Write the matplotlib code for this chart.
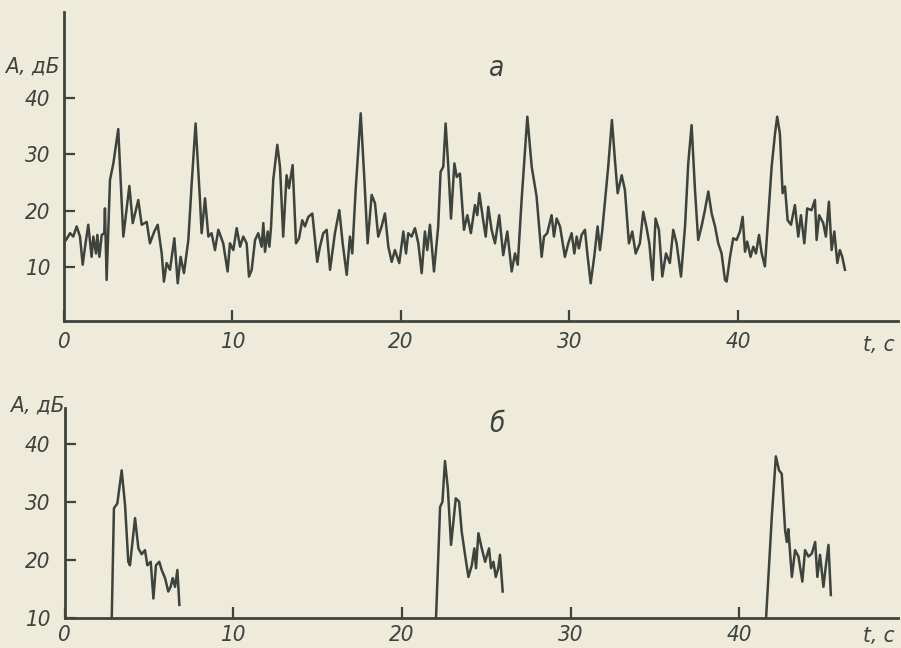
import matplotlib.pyplot as plt

W, H = 901, 648
PAPER = '#eeebdb'
INK = '#3d433d'
FONT = ['DejaVu Sans']

# panel a: amplitude record, t in s, A in dB
t_a = [0.12, 0.36, 0.55, 0.75, 0.95, 1.11, 1.25, 1.44, 1.64, 1.74, 1.90, 1.98, 2.10, 2.24, 2.39,
       2.43, 2.53, 2.73, 2.93, 3.22, 3.52, 3.88, 4.08, 4.41, 4.61, 4.91, 5.10, 5.36, 5.56, 5.80,
       5.93, 6.09, 6.29, 6.55, 6.75, 6.92, 7.12, 7.38, 7.58, 7.81, 8.07, 8.17, 8.37, 8.57, 8.76,
       8.96, 9.16, 9.45, 9.71,
       9.85, 10.05, 10.25, 10.45, 10.64, 10.84, 10.98, 11.14, 11.34, 11.53, 11.73, 11.83, 11.93,
       12.09, 12.19, 12.29, 12.42, 12.66, 12.82, 13.01, 13.21, 13.35, 13.57, 13.77, 13.95, 14.14,
       14.30, 14.50, 14.74, 14.90, 15.03, 15.19, 15.39, 15.59, 15.79, 16.08, 16.34, 16.54, 16.78,
       16.97, 17.11, 17.31, 17.61, 17.82, 18.02, 18.26, 18.46, 18.65, 18.85, 19.05, 19.25, 19.45,
       19.64,
       19.90, 20.14, 20.30, 20.43, 20.63, 20.83, 21.03, 21.23, 21.42, 21.56, 21.72, 21.96, 22.21,
       22.35, 22.51, 22.65, 22.81, 22.97, 23.17, 23.31, 23.50, 23.74, 23.94, 24.15, 24.39, 24.53,
       24.65, 24.88, 25.03, 25.18, 25.38, 25.58, 25.83, 26.07, 26.31, 26.57, 26.77, 26.93, 27.16,
       27.32, 27.50, 27.76, 28.05, 28.35, 28.49, 28.68, 28.94, 29.08, 29.24, 29.44,
       29.73, 29.93, 30.13, 30.29, 30.43, 30.56, 30.72, 30.92, 31.06, 31.26, 31.47, 31.67, 31.81,
       31.95, 32.15, 32.30, 32.52, 32.70, 32.86, 33.10, 33.29, 33.53, 33.73, 33.93, 34.18, 34.38,
       34.58, 34.74, 34.94, 35.11, 35.31, 35.51, 35.73, 35.96, 36.16, 36.36, 36.62, 36.86, 37.05,
       37.25, 37.45, 37.64, 37.84, 38.04, 38.24, 38.44, 38.64, 38.83, 39.03, 39.23,
       39.33, 39.53, 39.72, 39.92, 40.12, 40.28, 40.42, 40.55, 40.75, 40.91, 41.07, 41.25, 41.41,
       41.60, 41.80, 42.00, 42.20, 42.33, 42.49, 42.65, 42.79, 42.95, 43.15, 43.38, 43.58, 43.74,
       43.94, 44.11, 44.37, 44.57, 44.67, 44.82, 45.06, 45.22, 45.40, 45.56, 45.72, 45.90, 46.05,
       46.19, 46.35]
amp_a = [14.8, 16.0, 15.4, 17.2, 15.4, 10.4, 13.6, 17.5, 11.8, 15.4, 12.4, 15.7, 11.8, 15.7, 16.0,
         20.4, 7.7, 25.5, 28.4, 34.5, 15.4, 24.4, 17.8, 21.9, 17.5, 18.0, 14.2, 16.3, 17.5, 12.4,
         7.4, 10.7, 9.5, 15.1, 7.1, 11.8, 8.9, 14.8, 24.9, 35.5, 21.9, 16.0, 22.2, 15.4, 16.0,
         13.0, 16.6, 14.2, 9.2,
         14.2, 13.0, 16.9, 13.6, 15.4, 14.2, 8.3, 9.5, 14.8, 16.0, 13.6, 17.8, 12.7,
         16.3, 13.6, 17.2, 25.5, 31.7, 27.8, 15.4, 26.3, 24.0, 28.1, 14.2, 15.1, 18.3,
         17.2, 18.9, 19.5, 14.8, 10.9, 13.6, 16.0, 16.6, 9.5, 16.0, 20.1, 14.2, 8.6,
         15.4, 12.4, 23.7, 37.3, 26.0, 14.2, 22.8, 21.3, 15.4, 17.2, 19.5, 13.6, 10.9,
         13.0,
         10.7, 16.3, 12.4, 16.0, 15.4, 16.9, 14.2, 8.9, 16.3, 13.0, 17.5, 9.2, 17.2,
         26.9, 27.8, 35.5, 27.8, 18.6, 28.4, 26.0, 26.6, 16.6, 19.2, 16.0, 21.0, 19.2,
         23.1, 18.3, 15.4, 20.7, 16.6, 14.2, 19.2, 12.1, 16.3, 9.2, 12.4, 10.4, 21.9,
         29.0, 36.7, 27.8, 22.5, 11.8, 15.4, 16.0, 19.2, 15.4, 18.6, 17.2,
         11.8, 14.2, 16.0, 12.4, 15.4, 13.3, 15.7, 16.6, 12.4, 7.1, 11.8, 17.2, 13.0,
         16.6, 23.1, 27.8, 36.1, 29.0, 23.1, 26.3, 23.7, 14.2, 16.3, 12.4, 14.2, 19.8,
         16.9, 14.2, 7.7, 18.6, 16.6, 8.3, 12.4, 10.7, 16.6, 14.2, 8.3, 17.2, 28.4,
         35.2, 23.7, 14.8, 17.2, 20.1, 23.4, 19.5, 17.2, 14.2, 12.4, 7.7,
         7.4, 11.8, 15.1, 14.8, 16.3, 18.9, 12.7, 14.5, 11.8, 13.6, 12.4, 15.7, 12.4,
         10.1, 18.9, 27.8, 33.7, 36.7, 33.7, 23.1, 24.3, 18.3, 17.5, 21.0, 15.4, 19.2,
         14.2, 20.4, 20.1, 21.9, 14.8, 19.2, 17.8, 15.4, 21.6, 13.0, 16.3, 10.7, 13.0,
         11.8, 9.5]

# panel б: three gated bursts
t_b1 = [2.80, 2.93, 3.13, 3.39, 3.59, 3.78, 3.88, 4.18, 4.38, 4.57, 4.77, 4.91, 5.11, 5.27,
        5.42, 5.62, 5.76, 5.96, 6.15, 6.29, 6.41, 6.55, 6.69, 6.81]
amp_b1 = [10.0, 28.9, 29.7, 35.4, 29.4, 19.7, 19.1, 27.2, 22.0, 21.0, 21.7, 19.1, 19.7, 13.4,
          19.1, 19.7, 18.3, 16.9, 14.6, 15.4, 16.9, 15.4, 18.3, 12.3]
t_b2 = [22.02, 22.26, 22.40, 22.55, 22.72, 22.91, 23.19, 23.39, 23.54, 23.74, 23.94, 24.14,
        24.29, 24.39, 24.53, 24.73, 24.93, 25.16, 25.28, 25.42, 25.56, 25.71, 25.81, 25.97]
amp_b2 = [10.0, 29.1, 30.0, 37.0, 32.3, 22.6, 30.6, 30.0, 24.9, 20.9, 17.1, 19.1,
          22.0, 18.6, 24.6, 22.0, 19.7, 22.0, 18.6, 19.7, 17.1, 18.6, 20.9, 14.6]
t_b3 = [41.58, 41.92, 42.16, 42.35, 42.51, 42.71, 42.81, 42.90, 43.11, 43.30, 43.50, 43.73,
        43.89, 44.09, 44.29, 44.49, 44.62, 44.78, 44.98, 45.14, 45.28, 45.42]
amp_b3 = [10.0, 27.4, 37.8, 35.4, 34.8, 25.1, 23.1, 25.3, 17.1, 21.7, 20.6, 16.3,
          21.7, 20.6, 21.1, 23.1, 17.1, 20.9, 15.4, 19.4, 22.6, 14.0]

x_ticks = [0, 10, 20, 30, 40]
y_ticks_a = [10, 20, 30, 40]
y_ticks_b = [10, 20, 30, 40]


def px_axes(fig, left, top, right, bottom):
    return fig.add_axes([left / W, 1 - bottom / H, (right - left) / W, (bottom - top) / H])


def style_axes(ax, xlim, ylim, yticks, xpad):
    ax.set_facecolor('none')
    ax.set_xlim(*xlim)
    ax.set_ylim(*ylim)
    for side in ['top', 'right']:
        ax.spines[side].set_visible(False)
    for side in ['left', 'bottom']:
        ax.spines[side].set_color(INK)
        ax.spines[side].set_linewidth(2.0)
    ax.set_xticks(x_ticks)
    ax.set_yticks(yticks)
    ax.tick_params(direction='in', length=8, width=1.6, color=INK,
                   labelsize=16, labelcolor=INK)
    ax.tick_params(axis='x', pad=xpad)
    ax.tick_params(axis='y', pad=10)
    for lab in ax.get_xticklabels() + ax.get_yticklabels():
        lab.set_fontfamily(FONT)
        lab.set_fontstyle('italic')
        lab.set_fontstretch('condensed')


def fig_text(fig, x, y, s, size=16):
    fig.text(x / W, 1 - y / H, s, ha='center', va='center', color=INK,
             fontsize=size, family=FONT, style='italic', stretch='condensed')


def main():
    fig = plt.figure(figsize=(W / 100, H / 100), dpi=100)
    fig.patch.set_facecolor(PAPER)

    ax_a = px_axes(fig, 64, 12, 898, 321)
    ax_a.plot(t_a, amp_a, color=INK, lw=1.8)
    style_axes(ax_a, (0, 49.5), (0.4, 55.3), y_ticks_a, 8)

    ax_b = px_axes(fig, 64.5, 408, 898, 618.3)
    for t, a in [(t_b1, amp_b1), (t_b2, amp_b2), (t_b3, amp_b3)]:
        ax_b.plot(t, a, color=INK, lw=1.8)
    style_axes(ax_b, (0, 49.4), (10, 46.1), y_ticks_b, 5)

    fig_text(fig, 32, 67, 'A, дБ')
    fig_text(fig, 37, 406, 'A, дБ')
    fig_text(fig, 497, 68, 'а', 20)
    fig_text(fig, 497, 424, 'б', 20)
    fig_text(fig, 879, 345, 't, c')
    fig_text(fig, 879, 636, 't, c')

    fig.savefig('out.png', dpi=100, facecolor=PAPER)


if __name__ == "__main__":
    main()
